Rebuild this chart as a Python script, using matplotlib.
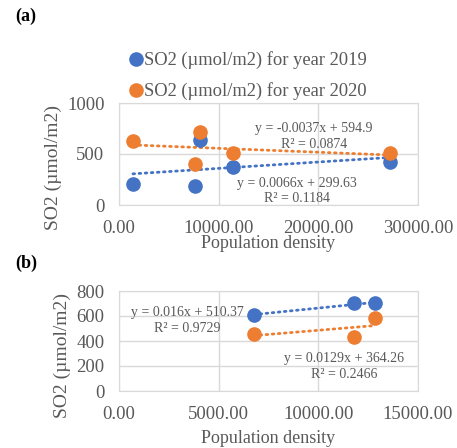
import numpy as np
import matplotlib
matplotlib.use('Agg')
import matplotlib.pyplot as plt
from matplotlib.lines import Line2D

plt.rcParams['font.family'] = ['Liberation Serif', 'DejaVu Serif']

# panel (a)
dens_a = [1400, 7600, 8100, 11400, 27200]
so2_2019_a = [203, 186, 642, 375, 425]
so2_2020_a = [627, 399, 719, 505, 507]
eq_a = ['y = 0.0066x + 299.63\nR² = 0.1184', 'y = -0.0037x + 594.9\nR² = 0.0874']

# panel (b)
dens_b = [6770, 11800, 12840]
so2_2019_b = [610, 701, 702]
so2_2020_b = [456, 434, 586]
eq_b = ['y = 0.016x + 510.37\nR² = 0.9729', 'y = 0.0129x + 364.26\nR² = 0.2466']

labels = ['SO2 (µmol/m2) for year 2019', 'SO2 (µmol/m2) for year 2020']
blue = '#4472C4'
orange = '#ED7D31'
grey = '#595959'
W, H = 457, 448

fig = plt.figure(figsize=(W / 100, H / 100), dpi=100)


def box(l, t, r, b):
    return [l / W, 1 - b / H, (r - l) / W, (b - t) / H]


def style(ax, xmax, xstep, ymax, ystep):
    ax.set_xlim(0, xmax)
    ax.set_ylim(0, ymax)
    ax.set_xticks(np.arange(0, xmax + 1, xstep))
    ax.set_yticks(np.arange(0, ymax + 1, ystep))
    ax.set_xticklabels(['%.2f' % v for v in np.arange(0, xmax + 1, xstep)])
    ax.grid(True, color='#D9D9D9', lw=1)
    ax.set_axisbelow(True)
    for s in ax.spines.values():
        s.set_color('#D9D9D9')
    ax.tick_params(length=0, colors=grey, labelsize=13.5)
    ax.tick_params(axis='y', pad=10.5)
    ax.tick_params(axis='x', pad=10.5)


def trend(ax, x, y, c):
    k, b = np.polyfit(x, y, 1)
    xx = np.array([min(x), max(x)])
    ax.plot(xx, k * xx + b, ls=(0, (0.6, 1.6)), color=c, lw=2, dash_capstyle='round', zorder=2)


def ftext(px, py, s, **kw):
    fig.text(px / W, 1 - py / H, s, color=grey, ha='center', va='center', **kw)


# (a)
ax1 = fig.add_axes(box(119, 103, 418, 205))
ax1.plot(dens_a, so2_2019_a, 'o', color=blue, ms=9.5, zorder=3)
ax1.plot(dens_a, so2_2020_a, 'o', color=orange, ms=9.5, zorder=3)
trend(ax1, dens_a, so2_2019_a, blue)
trend(ax1, dens_a, so2_2020_a, orange)
style(ax1, 30000, 10000, 1000, 500)

# (b)
ax2 = fig.add_axes(box(119, 291, 418, 391))
ax2.plot(dens_b, so2_2019_b, 'o', color=blue, ms=9.5, zorder=3)
ax2.plot(dens_b, so2_2020_b, 'o', color=orange, ms=9.5, zorder=3)
trend(ax2, dens_b, so2_2019_b, blue)
trend(ax2, dens_b, so2_2020_b, orange)
style(ax2, 15000, 5000, 800, 200)

# equations
ftext(297, 191, eq_a[0], fontsize=10, linespacing=1.3)
ftext(314, 136, eq_a[1], fontsize=10, linespacing=1.3)
ftext(187, 320, eq_b[0], fontsize=10, linespacing=1.3)
ftext(344, 366, eq_b[1], fontsize=10, linespacing=1.3)

# axis labels
ftext(268, 244, 'Population density', fontsize=13)
ftext(268, 438, 'Population density', fontsize=13)
ftext(53, 167, 'SO2 (µmol/m2)', fontsize=14, rotation=90)
ftext(62, 355, 'SO2 (µmol/m2)', fontsize=14, rotation=90)

# legend
handles = [Line2D([], [], ls='', marker='o', ms=9.5, color=c) for c in (blue, orange)]
fig.legend(handles, labels, loc='upper left', bbox_to_anchor=(116 / W, 1 - 42 / H),
           frameon=False, fontsize=13.3, handlelength=1.2, handletextpad=-0.2,
           labelspacing=0.72, labelcolor=grey, borderpad=0)

fig.text(15 / W, 1 - 16 / H, '(a)', fontweight='bold', fontsize=13, va='center')
fig.text(15 / W, 1 - 263 / H, '(b)', fontweight='bold', fontsize=13, va='center')

fig.savefig('out.png', dpi=100)
